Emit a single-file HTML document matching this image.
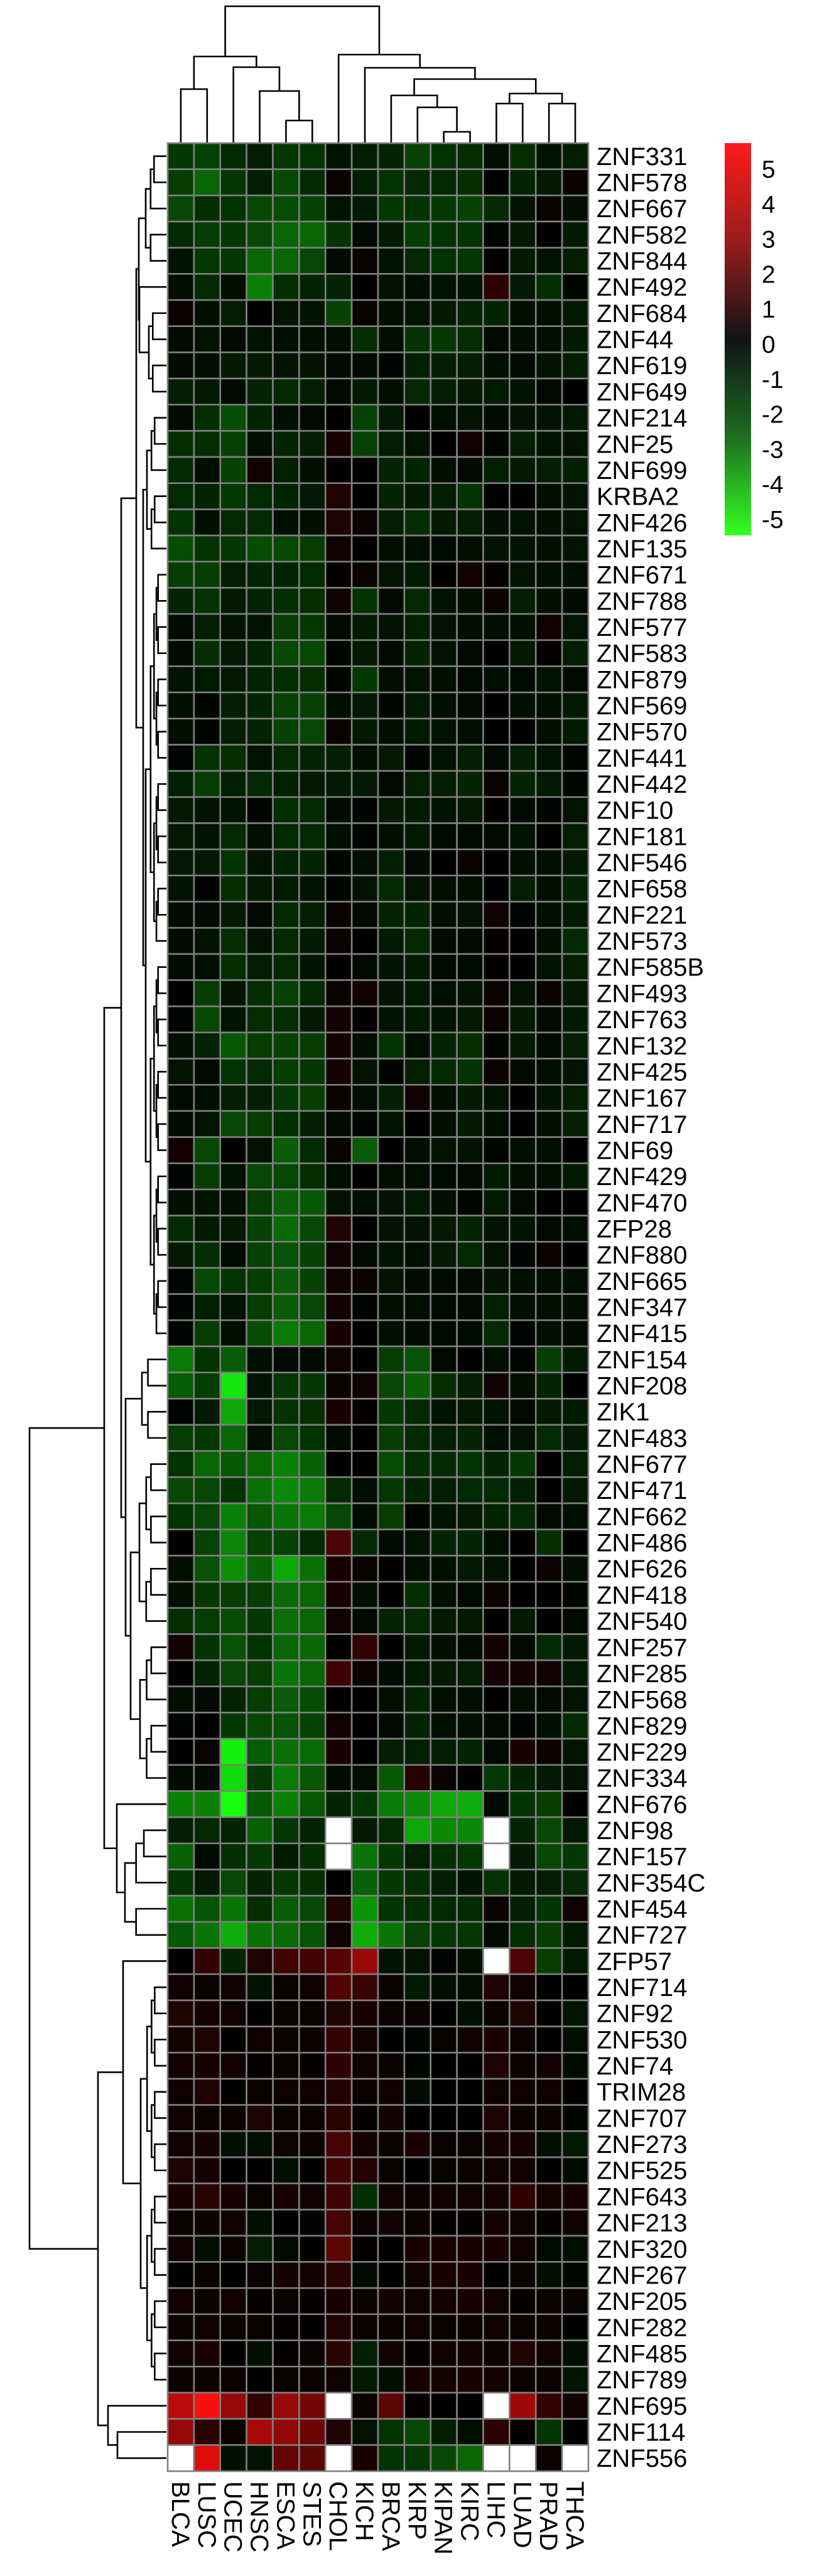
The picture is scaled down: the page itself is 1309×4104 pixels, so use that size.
<!DOCTYPE html>
<html><head><meta charset="utf-8"><title>ZNF heatmap</title>
<style>
html,body{margin:0;padding:0;background:#fff;}
svg{display:block;}
text{font-family:"Liberation Sans",Arial,sans-serif;fill:#000;}
</style></head>
<body>
<svg id="chart" width="1309" height="4104" viewBox="0 0 1309 4104" xmlns="http://www.w3.org/2000/svg">
<defs>
<linearGradient id="cbar" x1="0" y1="0" x2="0" y2="1">
<stop offset="0" stop-color="#ff1a1a"/>
<stop offset="0.25" stop-color="#9a1c1c"/>
<stop offset="0.5" stop-color="#101418"/>
<stop offset="0.75" stop-color="#1f6e1f"/>
<stop offset="1" stop-color="#33ff22"/>
</linearGradient>
</defs>
<g id="col-dendro"></g>
<g id="row-dendro"></g>
<g id="cells"></g>
<g id="rowlabels"></g>
<g id="collabels"></g>
<g id="legend">
<rect x="1154" y="228" width="42" height="625" fill="url(#cbar)"/>
</g>
</svg>
<script>
const colLabels = ["BLCA","LUSC","UCEC","HNSC","ESCA","STES","CHOL","KICH","BRCA","KIRP","KIPAN","KIRC","LIHC","LUAD","PRAD","THCA"];
const rowLabels = ["ZNF331","ZNF578","ZNF667","ZNF582","ZNF844","ZNF492","ZNF684","ZNF44","ZNF619","ZNF649","ZNF214","ZNF25","ZNF699","KRBA2","ZNF426","ZNF135","ZNF671","ZNF788","ZNF577","ZNF583","ZNF879","ZNF569","ZNF570","ZNF441","ZNF442","ZNF10","ZNF181","ZNF546","ZNF658","ZNF221","ZNF573","ZNF585B","ZNF493","ZNF763","ZNF132","ZNF425","ZNF167","ZNF717","ZNF69","ZNF429","ZNF470","ZFP28","ZNF880","ZNF665","ZNF347","ZNF415","ZNF154","ZNF208","ZIK1","ZNF483","ZNF677","ZNF471","ZNF662","ZNF486","ZNF626","ZNF418","ZNF540","ZNF257","ZNF285","ZNF568","ZNF829","ZNF229","ZNF334","ZNF676","ZNF98","ZNF157","ZNF354C","ZNF454","ZNF727","ZFP57","ZNF714","ZNF92","ZNF530","ZNF74","TRIM28","ZNF707","ZNF273","ZNF525","ZNF643","ZNF213","ZNF320","ZNF267","ZNF205","ZNF282","ZNF485","ZNF789","ZNF695","ZNF114","ZNF556"];
const legendTicks = [5,4,3,2,1,0,-1,-2,-3,-4,-5];
const N = null;
const values = [
[-1.1,-1.3,-0.8,-0.6,-1.1,-1.0,-0.4,-0.6,-0.7,-1.3,-1.0,-0.9,-0.3,-0.9,-0.4,-0.6],
[-1.2,-2.0,-1.1,-0.6,-1.4,-0.8,0.2,-0.6,-1.0,-0.8,-0.8,-0.9,0,-0.7,-0.5,0.2],
[-1.4,-0.9,-1.0,-1.4,-1.5,-1.3,-0.4,-0.5,-1.1,-1.0,-1.1,-1.3,-0.8,-0.4,0.2,-0.3],
[-0.8,-1.2,-1.1,-1.4,-2.0,-2.0,-1.0,-0.2,-0.5,-1.2,-1.0,-1.0,-0.1,-0.5,0.1,-0.5],
[-0.4,-1.1,-1.1,-2.0,-2.0,-1.4,-0.2,0.2,-0.4,-0.8,-1.0,-1.1,0,-0.5,-0.4,-0.6],
[-0.3,-0.8,-0.3,-2.5,-0.9,-0.7,-0.7,0.1,-0.4,-0.3,-0.4,-0.4,0.9,-0.5,-0.9,-0.1],
[0.2,-0.3,-0.6,0,-0.4,-0.4,-1.3,0.2,-0.3,-0.4,-0.5,-0.7,-0.7,-0.3,-0.3,-0.5],
[-0.2,-0.4,-0.2,-0.4,-0.3,-0.3,-0.3,-0.9,-0.3,-1.0,-1.1,-0.9,-0.2,-0.3,-0.3,-0.5],
[-0.2,-0.3,-0.5,-0.5,-0.4,-0.4,-0.2,-0.2,-0.1,-0.6,-0.6,-0.6,-0.3,-0.2,-0.4,-0.6],
[-0.6,-0.5,-0.2,-0.7,-0.8,-0.6,-0.2,-0.5,-0.3,-0.8,-0.6,-0.5,-0.5,-0.4,-0.2,0],
[-0.2,-0.9,-1.5,-0.7,-0.3,-0.2,0.1,-1.3,-0.5,0,-0.3,-0.4,-0.2,-0.4,-0.4,-0.5],
[-0.9,-0.9,-1.3,-0.3,-0.7,-0.6,0.5,-1.3,-0.6,-0.4,0,0.3,-0.1,-0.6,-0.4,-0.4],
[-0.8,-0.3,-1.3,0.3,-0.6,-0.3,0.1,0,-0.7,-0.7,-0.3,-0.2,-0.6,-0.5,-0.6,-0.6],
[-0.8,-0.7,-1.1,-0.8,-0.7,-0.5,0.6,0,-0.7,-0.5,-0.6,-1.0,0,0,-0.3,-0.4],
[-1.0,-0.3,-0.8,-0.8,-0.3,-0.3,0.6,0.2,-0.6,-0.9,-0.5,-0.6,-0.3,-0.4,-0.3,-0.4],
[-1.5,-1.0,-1.1,-1.5,-1.4,-1.2,0.3,0,-0.3,-0.3,-0.2,-0.3,-0.4,-0.4,-0.3,-0.4],
[-1.2,-1.2,-0.6,-0.7,-0.7,-0.8,0.1,0.2,-0.4,-0.5,0.1,0.3,0.1,-0.4,-0.3,-0.3],
[-0.7,-1.0,-0.5,-0.7,-0.9,-0.9,0.3,-1.0,-0.2,-0.8,-0.4,-0.3,0.2,-0.6,-0.3,-0.2],
[-0.2,-0.6,-0.4,-0.4,-1.2,-1.1,-0.2,-0.5,-0.4,-0.6,-0.4,-0.3,-0.3,-0.3,0.3,-0.4],
[-0.2,-0.9,-0.5,-0.7,-1.4,-1.4,-0.1,-0.5,-0.2,-0.7,-0.4,-0.2,0,-0.5,0.1,-0.6],
[-0.4,-0.5,-0.5,-0.7,-0.9,-0.9,-0.1,-1.1,-0.3,-0.4,-0.3,-0.2,-0.3,-0.2,-0.4,-0.2],
[-0.3,-0.1,-0.6,-0.7,-1.3,-1.3,-0.3,-0.5,-0.1,-0.5,-0.3,-0.2,0,-0.3,-0.3,-0.5],
[-0.3,-0.1,-0.6,-0.7,-1.3,-1.4,0.2,-0.5,-0.3,-0.5,-0.4,-0.3,0,0,-0.3,-0.5],
[-0.1,-1.0,-0.9,-0.4,-0.8,-0.7,-0.6,-0.3,-0.5,-0.1,-0.4,-0.6,-0.2,-0.6,-0.4,-0.1],
[-0.6,-1.2,-0.6,-0.8,-0.6,-0.5,-0.5,-0.5,-0.2,-0.6,-0.6,-0.7,0.2,-0.7,-0.5,-0.1],
[-0.5,-0.4,-0.4,-0.1,-0.9,-0.8,-0.2,-0.1,-0.5,-0.5,-0.4,-0.5,0.05,-0.2,-0.1,-0.4],
[-0.5,-0.4,-0.8,-0.3,-0.8,-0.8,-0.3,-0.1,-0.3,-0.5,-0.2,-0.2,-0.2,-0.4,0.1,-0.6],
[-0.5,-0.5,-1.0,-0.4,-0.7,-0.7,-0.1,-0.3,-0.6,-0.2,0,0.2,0,-0.3,-0.3,-0.5],
[-0.4,0,-0.9,-0.5,-0.5,-0.4,-0.1,-0.4,-0.8,-0.4,-0.3,-0.3,0,-0.6,-0.3,-0.7],
[-0.2,-0.2,-0.5,-0.2,-0.8,-0.6,0.2,-0.2,-0.7,-0.7,-0.3,-0.4,0.3,-0.1,-0.3,-0.5],
[-0.2,-0.4,-0.9,-0.4,-0.8,-0.5,0.2,0,-0.5,-0.8,-0.2,-0.2,0.1,0,-0.3,-0.8],
[-0.2,-0.3,-0.9,-0.6,-0.8,-0.4,0.1,-0.2,-0.4,-0.5,-0.2,-0.2,0.1,0,-0.4,-0.6],
[0,-1.2,-0.4,-0.9,-1.3,-0.8,0.2,0.4,-0.4,-0.5,-0.3,-0.4,0.2,-0.4,0.2,-0.5],
[-0.1,-1.4,-0.4,-0.9,-0.9,-0.5,0.4,0.1,-0.4,-0.5,-0.4,-0.5,0.2,-0.5,-0.2,-0.5],
[-0.3,-0.7,-1.7,-1.2,-1.3,-1.2,0.4,-0.3,-1.0,-0.3,-0.7,-0.9,-0.1,-0.5,-0.2,-0.6],
[-0.4,-0.2,-1.0,-0.8,-1.2,-1.1,0.4,-0.4,-0.1,-0.6,-0.8,-1.0,0.2,-0.2,-0.3,-0.4],
[-0.2,-0.3,-0.6,-0.6,-1.1,-1.2,0.2,-0.3,-0.6,0.3,-0.3,-0.5,-0.4,0,-0.4,-0.6],
[-0.2,-0.4,-1.4,-1.2,-0.9,-0.6,-0.2,-0.1,-0.4,0,-0.3,-0.5,-0.3,0.1,-0.3,-0.6],
[0.3,-1.4,0.05,-0.4,-1.8,-0.8,0.2,-1.8,0,-0.3,-0.4,-0.4,-0.1,-0.3,-0.3,0],
[-0.1,-1.2,-0.4,-1.4,-1.4,-0.9,-0.3,0,-0.3,-0.3,-0.2,-0.2,-0.5,-0.3,-0.3,-0.5],
[-0.3,-0.4,-0.3,-1.2,-1.9,-1.7,-0.4,-0.3,-0.4,-0.5,-0.3,-0.1,-0.5,-0.2,0,0],
[-0.8,-0.5,-0.5,-1.3,-2.1,-1.4,0.6,0,-0.4,-0.4,-0.5,-0.7,-0.4,-0.4,-0.2,-0.3],
[-0.5,-0.9,-0.2,-1.3,-1.6,-1.3,0.3,-0.2,-0.4,-0.3,-0.5,-0.8,-0.4,-0.1,0.2,0],
[-0.1,-1.4,-1.0,-1.2,-1.8,-1.3,0.3,0.2,-0.4,-0.2,-0.2,-0.2,-0.4,-0.3,-0.3,-0.3],
[-0.1,-0.6,-0.4,-1.2,-1.8,-1.4,0.4,-0.1,-0.3,-0.3,-0.2,-0.2,-0.6,-0.3,-0.3,-0.3],
[-0.1,-1.2,-0.3,-1.5,-2.4,-2.0,0.5,0,-0.3,-0.2,-0.2,-0.2,-0.8,-0.1,-0.3,-0.2],
[-2.4,-1.0,-1.8,-0.3,-0.2,-0.2,0.3,0.05,-1.2,-1.6,-0.2,0,-0.3,-0.1,-1.2,-0.5],
[-1.8,-1.2,-4.5,-0.4,-1.1,-1.1,0.2,0.3,-1.4,-1.9,-0.9,-0.6,0.3,-0.3,-0.7,0],
[-0.1,-0.5,-3.3,-0.5,-1.0,-0.9,0.5,0.1,-1.1,-0.8,-0.4,-0.5,-0.4,-0.2,-0.5,-0.5],
[-1.2,-1.1,-2.0,-0.3,-1.4,-1.0,-0.2,0,-1.2,-0.8,-0.6,-0.7,-0.3,-0.4,-0.8,-0.5],
[-1.0,-2.0,-1.7,-2.0,-2.5,-1.9,0,0.05,-1.5,-0.9,-0.8,-1.0,-0.7,-1.1,0.1,-0.6],
[-1.4,-1.4,-1.0,-2.2,-2.7,-2.4,-0.8,-0.3,-1.1,-0.7,-0.6,-0.8,-0.8,-0.6,0,-0.5],
[-1.0,-1.4,-2.5,-1.7,-2.3,-2.4,-1.4,-0.2,-1.2,-0.1,-0.4,-0.5,-0.7,-0.8,-0.2,-0.3],
[0.1,-1.3,-2.6,-1.3,-1.3,-0.8,1.5,-0.8,-0.2,-0.4,-0.7,-0.7,-0.3,0.1,-0.9,0],
[-0.3,-1.6,-2.8,-1.9,-3.3,-2.2,0.5,0.2,0.05,-0.3,-0.3,-0.5,-0.4,0,0.2,-0.3],
[-0.3,-1.1,-1.2,-1.2,-2.1,-2.0,0.5,-0.3,0,-0.9,-0.3,-0.2,0.2,0,0.1,-0.1],
[-0.9,-1.2,-1.5,-1.1,-2.2,-2.0,0.3,-0.2,-0.7,-0.8,-0.5,-0.5,0,-0.5,0,-0.2],
[0.3,-1.0,-1.6,-1.0,-2.0,-2.0,0,1.0,0,-0.5,-0.3,-0.2,0.4,-0.2,-0.8,-0.5],
[0.1,-0.7,-1.4,-1.2,-2.3,-2.0,1.2,0.2,-0.2,-0.5,-0.5,-0.6,0.4,0.4,0.3,-0.5],
[-0.3,-0.2,-0.7,-1.2,-1.8,-1.5,0.05,0,-0.3,-0.7,-0.3,-0.3,0,-0.3,-0.2,-0.4],
[-0.1,0,-1.1,-1.4,-1.6,-1.3,0.3,0,-0.2,-0.7,-0.3,-0.3,-0.2,-0.1,-0.3,-0.8],
[0,0.2,-4.7,-1.8,-2.2,-2.1,0.5,0,-0.6,-0.6,-0.6,-0.7,-0.2,0.5,0.2,-0.4],
[-0.2,-0.2,-4.3,-1.1,-2.4,-1.7,-0.2,-0.3,-1.7,0.7,0.2,0,-1.1,-0.7,-0.5,-0.4],
[-2.5,-2.5,-5.0,-1.7,-2.5,-1.7,-0.7,-1.1,-2.4,-2.7,-3.3,-3.4,-0.2,-1.0,-1.2,0.1],
[-0.6,-0.8,-0.7,-1.9,-1.1,-0.7,N,-0.5,-0.8,-3.3,-2.7,-2.7,N,-0.7,-1.4,-0.5],
[-1.9,-0.2,-0.9,-1.1,-0.5,-0.9,N,-2.3,-1.1,-0.6,-0.9,-1.1,N,-0.5,-1.4,-1.1],
[-1.0,-0.5,-1.4,-0.7,-1.1,-0.9,0,-1.9,-1.1,-0.9,-0.6,-0.4,-1.0,-0.5,-0.6,-0.8],
[-2.2,-1.6,-2.3,-0.9,-1.8,-1.4,0.6,-2.9,-1.0,-0.9,-0.8,-0.8,0.2,-0.6,-1.0,0.3],
[-1.7,-2.3,-3.4,-2.2,-2.1,-1.6,0.3,-3.4,-2.3,-1.3,-1.1,-1.1,-0.2,-0.9,-1.2,-0.5],
[0,1.0,-0.7,0.6,1.3,1.3,1.7,3.0,-0.4,-0.4,-0.1,-0.3,N,1.5,-1.2,-0.5],
[0.3,0.2,0.4,-0.4,0.2,0.3,1.6,1.1,0.2,-0.5,-0.3,-0.3,0.6,0.3,0,0],
[0.6,0.4,0.3,0,0.2,0.2,0.6,0.5,0.2,0.2,0,-0.3,0.2,0.6,0.1,-0.4],
[0.4,0.6,0.1,0.3,0.2,0.2,1.0,0.4,0,-0.1,0.2,0.3,0.5,0.2,0,-0.3],
[0.3,0.5,0.3,0.1,0.2,0.1,0.9,0.3,0.2,-0.1,0,0,0.6,0.2,0.3,-0.2],
[0.3,0.6,0.1,0.2,0.3,0.3,0.7,0.2,0.3,-0.2,0,0,0.3,0.3,0.3,0.1],
[0.3,0.2,0.2,0.6,0.2,0.2,0.8,0.1,0.4,0,0,0,0.6,0.2,0.2,-0.1],
[0.3,0.5,-0.3,-0.3,0.3,0.2,1.4,0.4,0.2,0.5,0.2,0.2,0.4,0.4,-0.3,-0.5],
[0.6,0.4,0,0.1,-0.3,0.1,1.3,0.7,0.2,0,0.2,0.2,0.3,0.3,0,-0.2],
[0.5,0.8,0.5,0.2,0.5,0.3,1.2,-0.9,0.3,0.2,0.3,0.3,0.4,0.9,0.4,0.5],
[0.2,0.2,0.3,-0.3,0,-0.1,1.4,0.2,0.3,0.2,0.1,0.1,0.4,0.3,0.1,0.3],
[0.3,-0.3,0.2,-0.6,-0.2,0.05,1.8,0.1,0,0.5,0.5,0.5,0.5,0.3,-0.2,-0.3],
[0,0.2,0,0.2,0.4,0.4,0.8,-0.2,0.05,0.3,0.5,0.5,0,0.2,-0.3,-0.1],
[0.3,0.2,0.3,0.1,0.2,0.1,0.5,0.2,0.4,0.3,0.4,0.5,0.3,0.1,0.2,0.2],
[0.2,0.3,0.2,0.2,0.1,0.1,0.6,0.2,0.2,0.3,0.2,0.2,0.3,0.2,0.2,0],
[0.3,0.5,0,-0.3,0.1,0.2,0.8,-0.6,0.3,0.1,0.3,0.4,0.2,0.6,0.3,-0.3],
[0.2,0.2,0.2,0,0.2,0.2,0.3,-0.5,-0.3,0.5,0.4,0.5,0.4,0.2,0.2,-0.4],
[3.7,5.0,3.0,1.0,3.0,2.3,N,0.2,1.8,0.1,0,0,N,3.1,1.0,0.4],
[3.0,0.8,0.2,3.3,2.9,2.1,0.6,-0.4,-1.0,-1.4,-0.6,-0.3,0.8,0.1,-1.0,0],
[N,4.4,-0.3,-0.4,2.0,1.8,N,0.5,-1.0,-1.1,-1.4,-2.0,N,N,0.2,N]
];
// column dendrogram: [mergeHeightY, left, right]
const colTree = [10,[90,[142,0,1],[107,2,[145,3,[192,4,5]]]],[87,6,[108,7,[126,[152,8,[171,9,[210,10,11]]],[149,[165,12,13],[165,14,15]]]]]];

const SVGNS = "http://www.w3.org/2000/svg";
const X0 = 267, X1 = 937, Y0 = 228, Y1 = 3937;
const CW = (X1 - X0) / colLabels.length, RH = (Y1 - Y0) / rowLabels.length;
const xCol = i => X0 + CW * (i + 0.5);
const yRow = i => Y0 + RH * (i + 0.5);
const vmax = 5;
function color(v){
  if (v === null) return "#ffffff";
  const t = Math.min(1, Math.abs(v) / vmax);
  const c = Math.round(t * 255);
  return v < 0 ? `rgb(${Math.round(c*0.08)},${c},${Math.round(c*0.05)})` : `rgb(${c},${Math.round(c*0.05)},${Math.round(c*0.05)})`;
}
function mk(tag, attrs, parent){
  const e = document.createElementNS(SVGNS, tag);
  for (const k in attrs) e.setAttribute(k, attrs[k]);
  parent.appendChild(e); return e;
}
// cells
const gCells = document.getElementById('cells');
values.forEach((row, r) => row.forEach((v, c) => {
  const e = mk('rect', {x: X0 + c*CW, y: Y0 + r*RH, width: CW, height: RH, fill: color(v), stroke: '#808080', 'stroke-width': 2.6}, gCells);
  
  
}));
// row labels
const gRL = document.getElementById('rowlabels');
rowLabels.forEach((t, i) => {
  const e = mk('text', {x: 950, y: yRow(i) + 14, 'font-size': 40}, gRL);
  e.textContent = t;
  
  
});
// column labels
const gCL = document.getElementById('collabels');
colLabels.forEach((t, i) => {
  const x = xCol(i) - 14, y = 3953;
  const e = mk('text', {x: x, y: y, 'font-size': 40, transform: `rotate(90 ${x} ${y})`}, gCL);
  e.textContent = t;
  
  
});
// legend ticks
const gL = document.getElementById('legend');
const legY = v => 548 - v * 55.8;
legendTicks.forEach(v => {
  const e = mk('text', {x: 1213, y: legY(v) + 14, 'font-size': 39}, gL);
  e.textContent = String(v);
  
  
});
// column dendrogram
const gCD = document.getElementById('col-dendro');
function drawCol(n){
  if (typeof n === 'number') return {x: xCol(n), y: Y0};
  const a = drawCol(n[1]), b = drawCol(n[2]), h = n[0];
  const d = `M${a.x},${a.y}V${h}H${b.x}V${b.y}`;
  const e = mk('path', {d: d, fill: 'none', stroke: '#000', 'stroke-width': 2.6}, gCD);
  
  
  return {x: (a.x + b.x) / 2, y: h};
}
drawCol(colTree);
// row dendrogram structure (merge x positions)
function bal(lo, hi, x){
  if (lo === hi) return lo;
  const mid = Math.floor((lo + hi) / 2);
  const nx = x + (258 - x) * 0.3;
  return [x, bal(lo, mid, nx), bal(mid + 1, hi, nx)];
}
const rowTree = [47,
  [166,
    [193,
      [217,
        [221, bal(0,4,232), [222, 5, bal(6,9,237)]],
        [228, bal(10,15,234), bal(16,45,232)]],
      [200, bal(46,49,226), [208, bal(50,56,222), bal(57,62,223)]]],
    [186, 63, bal(64,68,199)]],
  [156,
    [196, 69, bal(70,85,224)],
    [172, 86, [187, 87, 88]]]];
const gRD = document.getElementById('row-dendro');
function drawRow(n){
  if (typeof n === 'number') return {x: 265, y: yRow(n)};
  const a = drawRow(n[1]), b = drawRow(n[2]), h = n[0];
  const d = `M${a.x},${a.y}H${h}V${b.y}H${b.x}`;
  const e = mk('path', {d: d, fill: 'none', stroke: '#000', 'stroke-width': 2.6}, gRD);
  
  
  return {x: h, y: (a.y + b.y) / 2};
}
drawRow(rowTree);
</script>
</body></html>
